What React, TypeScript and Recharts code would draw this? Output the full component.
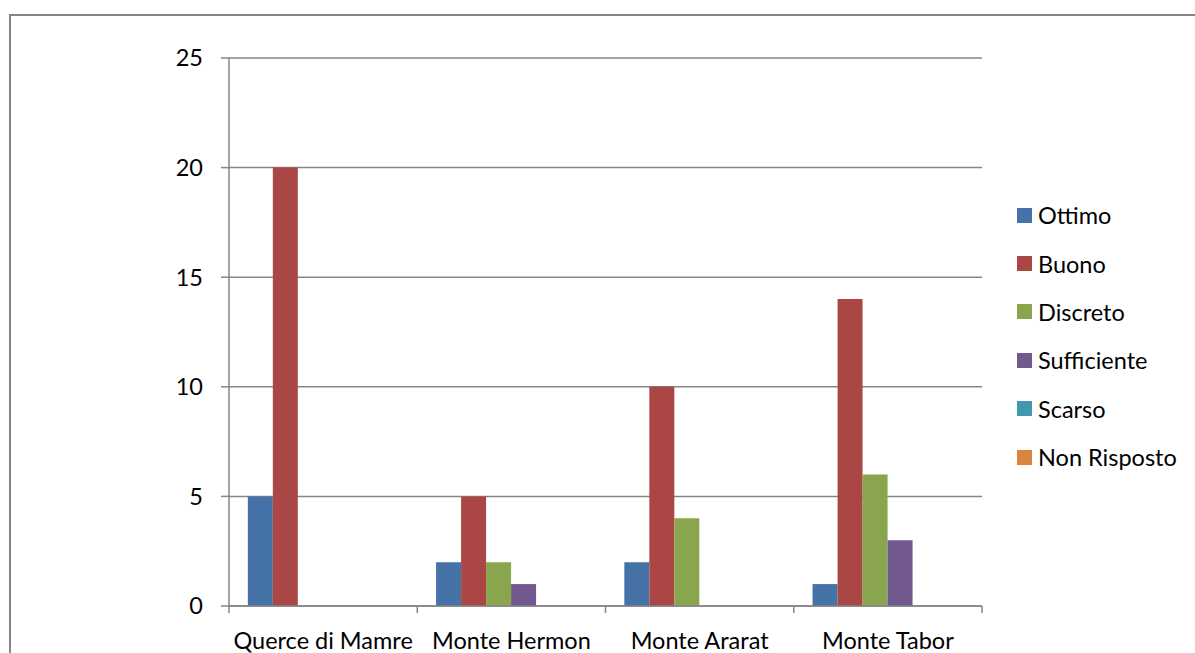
import { BarChart, Bar, XAxis, YAxis, CartesianGrid } from 'recharts';

// categories and series
const categories = ['Querce di Mamre', 'Monte Hermon', 'Monte Ararat', 'Monte Tabor'];
const ottimo = [5, 2, 2, 1];
const buono = [20, 5, 10, 14];
const discreto = [0, 2, 4, 6];
const sufficiente = [0, 1, 0, 3];
const scarso = [0, 0, 0, 0];
const nonRisposto = [0, 0, 0, 0];
const yTicks = [0, 5, 10, 15, 20, 25];

const seriesNames = ['Ottimo', 'Buono', 'Discreto', 'Sufficiente', 'Scarso', 'Non Risposto'];
const seriesValues = [ottimo, buono, discreto, sufficiente, scarso, nonRisposto];
const COLORS = ['#4572A7', '#AA4643', '#89A54E', '#71588F', '#4198AF', '#DB843D'];

const data = categories.map((name, i) => {
  const row: Record<string, string | number> = { name };
  seriesNames.forEach((s, j) => {
    row[s] = seriesValues[j][i];
  });
  return row;
});

const GREY = '#868686';
const FONT = 'Lato, "Noto Sans", sans-serif';
const TICK_SIZE = 6;
const TICK_MARGIN = 20;

// category label plus tick marks on the band edges (Excel style)
// eslint-disable-next-line @typescript-eslint/no-explicit-any
const CatTick = (props: any) => {
  const { x, y, payload, index, visibleTicksCount } = props;
  const half = payload?.offset ?? 0;
  const axisY = y - TICK_SIZE - TICK_MARGIN;
  return (
    <g>
      <line x1={x - half} x2={x - half} y1={axisY} y2={axisY + 7} stroke={GREY} strokeWidth={1.5} />
      {index === visibleTicksCount - 1 && (
        <line x1={x + half} x2={x + half} y1={axisY} y2={axisY + 7} stroke={GREY} strokeWidth={1.5} />
      )}
      <text x={x} y={y} dy="0.71em" textAnchor="middle" fontSize={23.5} fill="#000">
        {payload.value}
      </text>
    </g>
  );
};

export default function App() {
  return (
    <div style={{ position: 'relative', width: 1195, height: 653, overflow: 'hidden', background: '#fff', fontFamily: FONT }}>
      <style>{'body{margin:0}'}</style>
      <div
        style={{
          position: 'absolute',
          left: 9,
          top: 14,
          width: 1300,
          height: 800,
          border: `2px solid ${GREY}`,
        }}
      />
      <div style={{ position: 'absolute', left: 0, top: 0 }}>
        <BarChart
          width={1195}
          height={653}
          data={data}
          margin={{ top: 58, right: 213, bottom: 0, left: 169 }}
          barCategoryGap="10%"
          barGap={0}
        >
          <CartesianGrid vertical={false} stroke={GREY} strokeWidth={1.5} />
          <XAxis
            dataKey="name"
            height={47}
            axisLine={{ stroke: GREY, strokeWidth: 1.5 }}
            tickLine={false}
            tickSize={TICK_SIZE}
            tickMargin={TICK_MARGIN}
            interval={0}
            tick={CatTick}
          />
          <YAxis
            domain={[0, 25]}
            ticks={yTicks}
            width={60}
            tickSize={8}
            tickMargin={18}
            axisLine={{ stroke: GREY, strokeWidth: 1.5 }}
            tickLine={{ stroke: GREY, strokeWidth: 1.5 }}
            tick={{ fill: '#000', fontSize: 23.5 }}
          />
          {seriesNames.map((s, j) => (
            <Bar key={s} dataKey={s} fill={COLORS[j]} isAnimationActive={false} />
          ))}
        </BarChart>
      </div>
      <div style={{ position: 'absolute', left: 1017, top: 191 }}>
        {seriesNames.map((s, j) => (
          <div key={s} style={{ display: 'flex', alignItems: 'center', height: 48.4 }}>
            <span style={{ display: 'inline-block', width: 15, height: 15, background: COLORS[j], marginRight: 6 }} />
            <span style={{ fontSize: 23.5, color: '#000' }}>{s}</span>
          </div>
        ))}
      </div>
    </div>
  );
}
